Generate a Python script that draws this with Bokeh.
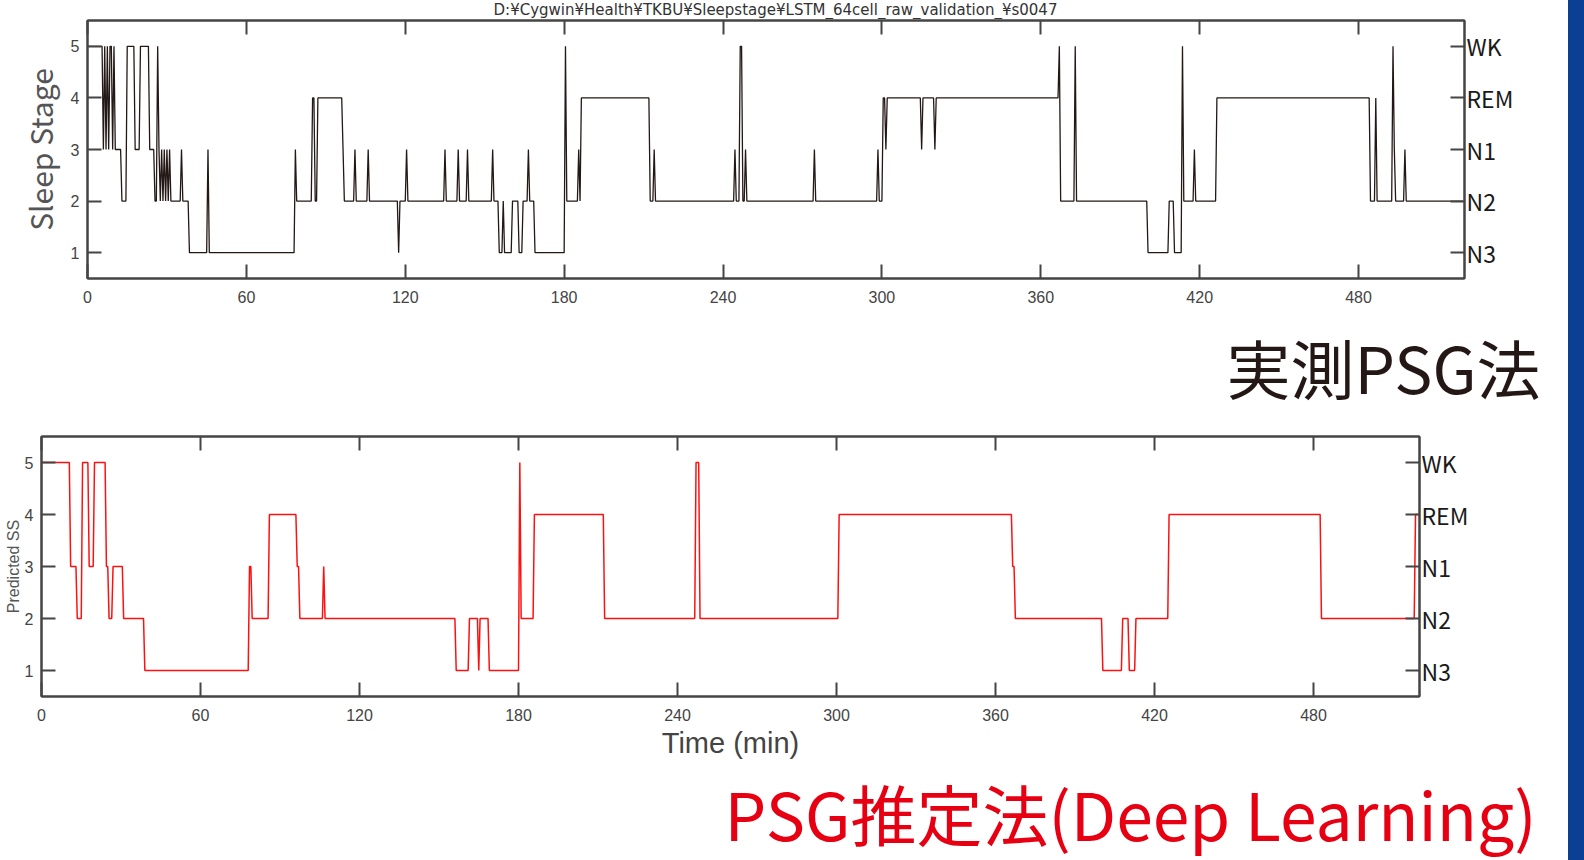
import numpy as np
from bokeh.plotting import figure
from bokeh.models import Range1d, LinearAxis, FixedTicker, Label, Div
from bokeh.layouts import column, row
from bokeh.embed import file_html
from bokeh.resources import INLINE

# ---------------- data (stage changes) ----------------
# minutes at which the measured (PSG) stage changes, and the stage from then on
psg_change_min = [0, 6, 6.5, 7, 7.5, 8, 8.5, 9.5, 10, 10.5, 13, 15, 18, 20, 23.5,
                  25.5, 26.5, 27, 27.5, 28, 28.5, 29, 29.5, 30, 30.5, 31, 31.5,
                  35.5, 36, 38.5, 45.5, 46, 78.5, 79, 85, 86, 87, 96.5, 97,
                  101, 101.5, 106, 106.5, 117.5, 118, 120.5, 121, 135, 135.5,
                  140, 140.5, 143.5, 144, 153, 153.5, 155.5, 157, 157.5, 160.5,
                  163, 164.5, 166.5, 167, 169, 180.5, 181, 185.5, 186, 186.5,
                  212.5, 214, 214.5, 244.5, 245, 246.5, 247.5, 248.5, 249,
                  274.5, 275, 298.5, 299, 300.5, 301.5, 302, 315, 315.5, 320,
                  320.5, 367, 367.5, 373, 373.5, 400.5, 408.5, 410.5, 413.5,
                  414, 418, 418.5, 426.5, 484.5, 486.5, 487, 493, 493.5, 494,
                  497.5, 498]
psg_stage = [5, 3, 5, 3, 5, 3, 5, 3, 5, 3, 2, 5, 3, 5, 3,
             2, 5, 3, 2, 3, 2, 3, 2, 3, 2, 3, 2,
             3, 2, 1, 3, 1, 3, 2, 4, 2, 4, 3, 2,
             3, 2, 3, 2, 1, 2, 3, 2, 3, 2,
             3, 2, 3, 2, 3, 2, 1, 2, 1, 2,
             1, 2, 3, 2, 1, 5, 2, 3, 2, 4,
             2, 3, 2, 3, 2, 5, 2, 3, 2,
             3, 2, 3, 2, 4, 3, 4, 3, 4, 3,
             4, 5, 2, 5, 2, 1, 2, 1, 5,
             2, 3, 2, 4, 2, 4, 2, 5, 3, 2,
             3, 2]

# predicted (deep learning) stage changes
pred_change_min = [0, 11, 13.5, 15.5, 18, 20, 24.5, 25.5, 27, 31, 39, 78.5, 79.5,
                   86, 96.5, 97.5, 106.5, 107, 156.5, 161.5, 165, 165.5, 169,
                   180.5, 181, 186, 212.5, 247, 248.5, 301, 366.5, 367.5, 400.5,
                   408, 410.5, 413, 425.5, 483, 518.5]
pred_stage = [5, 3, 2, 5, 3, 5, 3, 2, 3, 2, 1, 3, 2,
              4, 3, 2, 3, 2, 1, 2, 1, 2, 1,
              5, 2, 4, 2, 5, 2, 4, 3, 2, 1,
              2, 1, 2, 4, 2, 4]

record_end_min = 519.5
epoch_min = 0.5

x_ticks = [0, 60, 120, 180, 240, 300, 360, 420, 480]
y_ticks = [1, 2, 3, 4, 5]
stage_names = {1: "N3", 2: "N2", 3: "N1", 4: "REM", 5: "WK"}

title_text = "D:¥Cygwin¥Health¥TKBU¥Sleepstage¥LSTM_64cell_raw_validation_¥s0047"
caption_top = "実測PSG法"
caption_bottom = "PSG推定法(Deep Learning)"

# ---------------- helpers ----------------
FONT = "Noto Sans CJK JP"
TICKFONT = "Liberation Sans"
AX = "#454545"
LBL = "#444444"
W = 1568


def expand(changes, stages, end):
    t = np.arange(0, end + 1e-6, epoch_min)
    idx = np.searchsorted(np.array(changes), t, side="right") - 1
    return t, np.array(stages)[idx]


def style_axis(ax, ticks, size, color, standoff, font=TICKFONT):
    ax.ticker = FixedTicker(ticks=ticks)
    ax.major_tick_in = 14
    ax.major_tick_out = 0
    ax.minor_tick_line_color = None
    ax.axis_line_color = AX
    ax.axis_line_width = 2
    ax.major_tick_line_color = AX
    ax.major_tick_line_width = 2
    ax.major_label_text_font = font
    ax.major_label_text_font_size = size
    ax.major_label_text_color = color
    ax.major_label_standoff = standoff


def make_fig(h, left, right, top, bottom):
    p = figure(width=W, height=h, x_range=Range1d(0, 520), y_range=Range1d(0.5, 5.5),
               output_backend="svg", toolbar_location=None,
               min_border_left=left, min_border_right=right,
               min_border_top=top, min_border_bottom=bottom)
    p.frame_align = False
    p.grid.visible = False
    p.outline_line_color = AX
    p.outline_line_width = 2
    bottom_ax = p.xaxis[0]
    left_ax = p.yaxis[0]
    style_axis(bottom_ax, x_ticks, "16px", LBL, 12)
    style_axis(left_ax, y_ticks, "16px", LBL, 8)
    top_ax = LinearAxis()
    style_axis(top_ax, x_ticks, "0px", LBL, 0)
    top_ax.major_label_overrides = {t: "" for t in x_ticks}
    p.add_layout(top_ax, "above")
    right_ax = LinearAxis()
    style_axis(right_ax, y_ticks, "23px", "#1a1a1a", 2, FONT)
    right_ax.major_label_overrides = stage_names
    p.add_layout(right_ax, "right")
    return p, bottom_ax, left_ax


def strip(h):
    s = figure(width=W, height=h, x_range=Range1d(0, W), y_range=Range1d(h, 0),
               output_backend="svg", toolbar_location=None,
               x_axis_location=None, y_axis_location=None,
               min_border_left=0, min_border_right=0, min_border_top=0,
               min_border_bottom=0)
    s.frame_align = False
    s.grid.visible = False
    s.outline_line_color = None
    return s


# ---------------- title strip ----------------
s0 = strip(19)
s0.add_layout(Label(x=775, y=9.5, text=title_text, text_align="center",
                    text_baseline="middle", text_font="DejaVu Sans",
                    text_font_size="15px", text_color="#333333"))

# ---------------- top chart: measured PSG ----------------
t1, s1 = expand(psg_change_min, psg_stage, record_end_min)
p1, b1, l1 = make_fig(301, 87, 104, 1, 42)
p1.line(t1, s1, line_color="#231815", line_width=1.3)
l1.axis_label = "Sleep Stage"
l1.axis_label_text_font = FONT
l1.axis_label_text_font_size = "30px"
l1.axis_label_text_font_style = "normal"
l1.axis_label_text_color = "#555555"
l1.axis_label_standoff = 6

s1s = strip(100)
s1s.add_layout(Label(x=1540, y=45, text=caption_top, text_align="right",
                     text_baseline="alphabetic", text_font=FONT,
                     text_font_size="64px", text_color="#231815"))

# ---------------- bottom chart: predicted ----------------
t2, s2 = expand(pred_change_min, pred_stage, record_end_min)
p2, b2, l2 = make_fig(343, 41, 149, 16, 67)
p2.line(t2, s2, line_color="#ff1010", line_width=1.5)
b2.axis_label = "Time (min)"
b2.axis_label_text_font = TICKFONT
b2.axis_label_text_font_size = "29px"
b2.axis_label_text_font_style = "normal"
b2.axis_label_text_color = "#444444"
b2.axis_label_standoff = 3
l2.axis_label = "Predicted SS"
l2.axis_label_text_font = TICKFONT
l2.axis_label_text_font_size = "16px"
l2.axis_label_text_font_style = "normal"
l2.axis_label_text_color = "#555555"
l2.axis_label_standoff = 0

s2s = strip(97)
s2s.add_layout(Label(x=1537, y=48, text=caption_bottom, text_align="right",
                     text_baseline="alphabetic", text_font=FONT,
                     text_font_size="66px", text_color="#e60012"))

bar = Div(text="", width=16, height=860, margin=0,
          styles={"background-color": "#0a3f94"})

layout = row(column(s0, p1, s1s, p2, s2s), bar)

open("out.html", "w").write(file_html(layout, INLINE))
